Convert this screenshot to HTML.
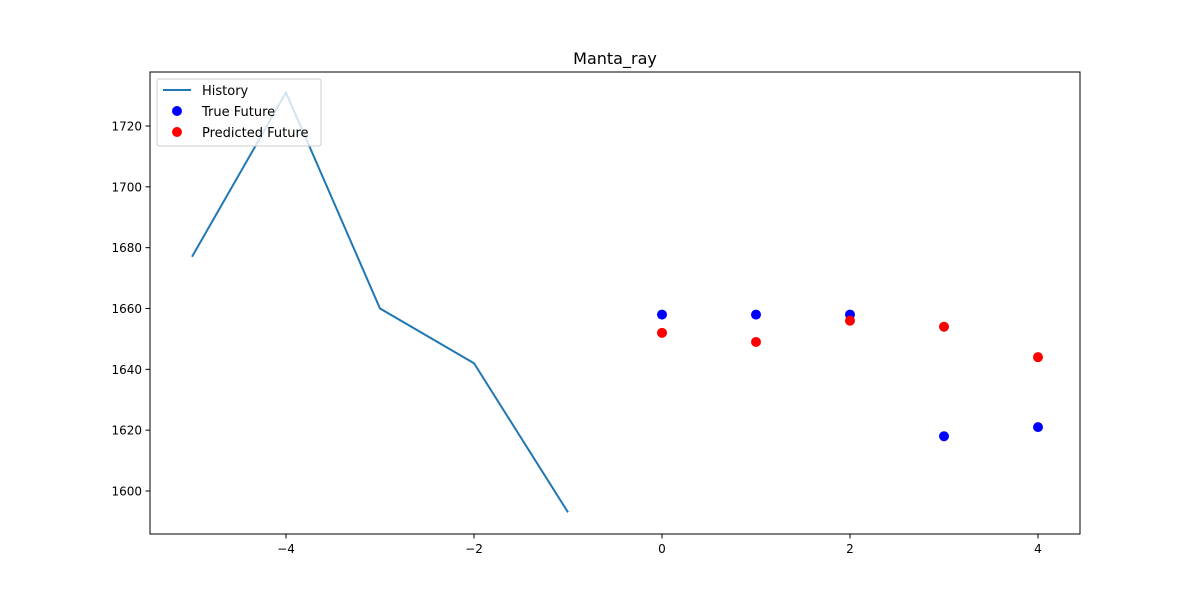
<!DOCTYPE html>
<html><head><meta charset="utf-8"><style>
body{margin:0;background:#fff;font-family:"Liberation Sans","DejaVu Sans",sans-serif;}
svg text{font-family:"DejaVu Sans","Liberation Sans",sans-serif;}
</style></head><body>
<svg id="chart" width="1200" height="600" xmlns="http://www.w3.org/2000/svg">
<rect width="1200" height="600" fill="#fff"/>
<text x="615" y="64" font-size="16" text-anchor="middle">Manta_ray</text>
<g id="plot"></g>
<rect x="150" y="72" width="930" height="462" fill="none" stroke="#000" stroke-width="1"/>
<g>
<rect x="157" y="79" width="164" height="67" fill="#fff" fill-opacity="0.8" stroke="#ccc" rx="2"/>
<line x1="163" y1="90" x2="191" y2="90" stroke="#1f77b4" stroke-width="2"/>
<text x="202" y="95" font-size="13">History</text>
<circle cx="177" cy="111" r="5" fill="blue"/>
<text x="202" y="116" font-size="13">True Future</text>
<circle cx="177" cy="132" r="5" fill="red"/>
<text x="202" y="137" font-size="13">Predicted Future</text>
</g>
</svg>
<script>
const histX=[-5,-4,-3,-2,-1];
const histY=[1677,1731,1660,1642,1593];
const futX=[0,1,2,3,4];
const trueY=[1658,1658,1658,1618,1621];
const predY=[1652,1649,1656,1654,1644];
const xTicks=[-4,-2,0,2,4];
const yTicks=[1600,1620,1640,1660,1680,1700,1720];
const NS="http://www.w3.org/2000/svg";
const sx=v=>662+(v)*94;
const sy=v=>491-(v-1600)*365/120;
const g=document.getElementById('plot');
function mk(t,a){const e=document.createElementNS(NS,t);for(const k in a)e.setAttribute(k,a[k]);g.appendChild(e);return e;}
xTicks.forEach(t=>{
 const l=mk('line',{x1:sx(t),x2:sx(t),y1:534,y2:538.5,stroke:'#000'});
 
 
 const tx=mk('text',{x:sx(t),y:553,'font-size':12,'text-anchor':'middle'});
 tx.textContent=t<0?'\u2212'+(-t):t;
 
 
});
yTicks.forEach(t=>{
 const l=mk('line',{x1:145.5,x2:150,y1:sy(t),y2:sy(t),stroke:'#000'});
 
 
 const tx=mk('text',{x:142,y:sy(t)+4.5,'font-size':12,'text-anchor':'end'});
 tx.textContent=t;
 
 
});
const p=mk('polyline',{points:histX.map((x,i)=>sx(x)+','+sy(histY[i])).join(' '),fill:'none',stroke:'#1f77b4','stroke-width':2});


futX.forEach((x,i)=>{
 const c=mk('circle',{cx:sx(x),cy:sy(trueY[i]),r:5,fill:'blue'});
 
 
});
futX.forEach((x,i)=>{
 const c=mk('circle',{cx:sx(x),cy:sy(predY[i]),r:5,fill:'red'});
 
 
});
</script>
</body></html>
